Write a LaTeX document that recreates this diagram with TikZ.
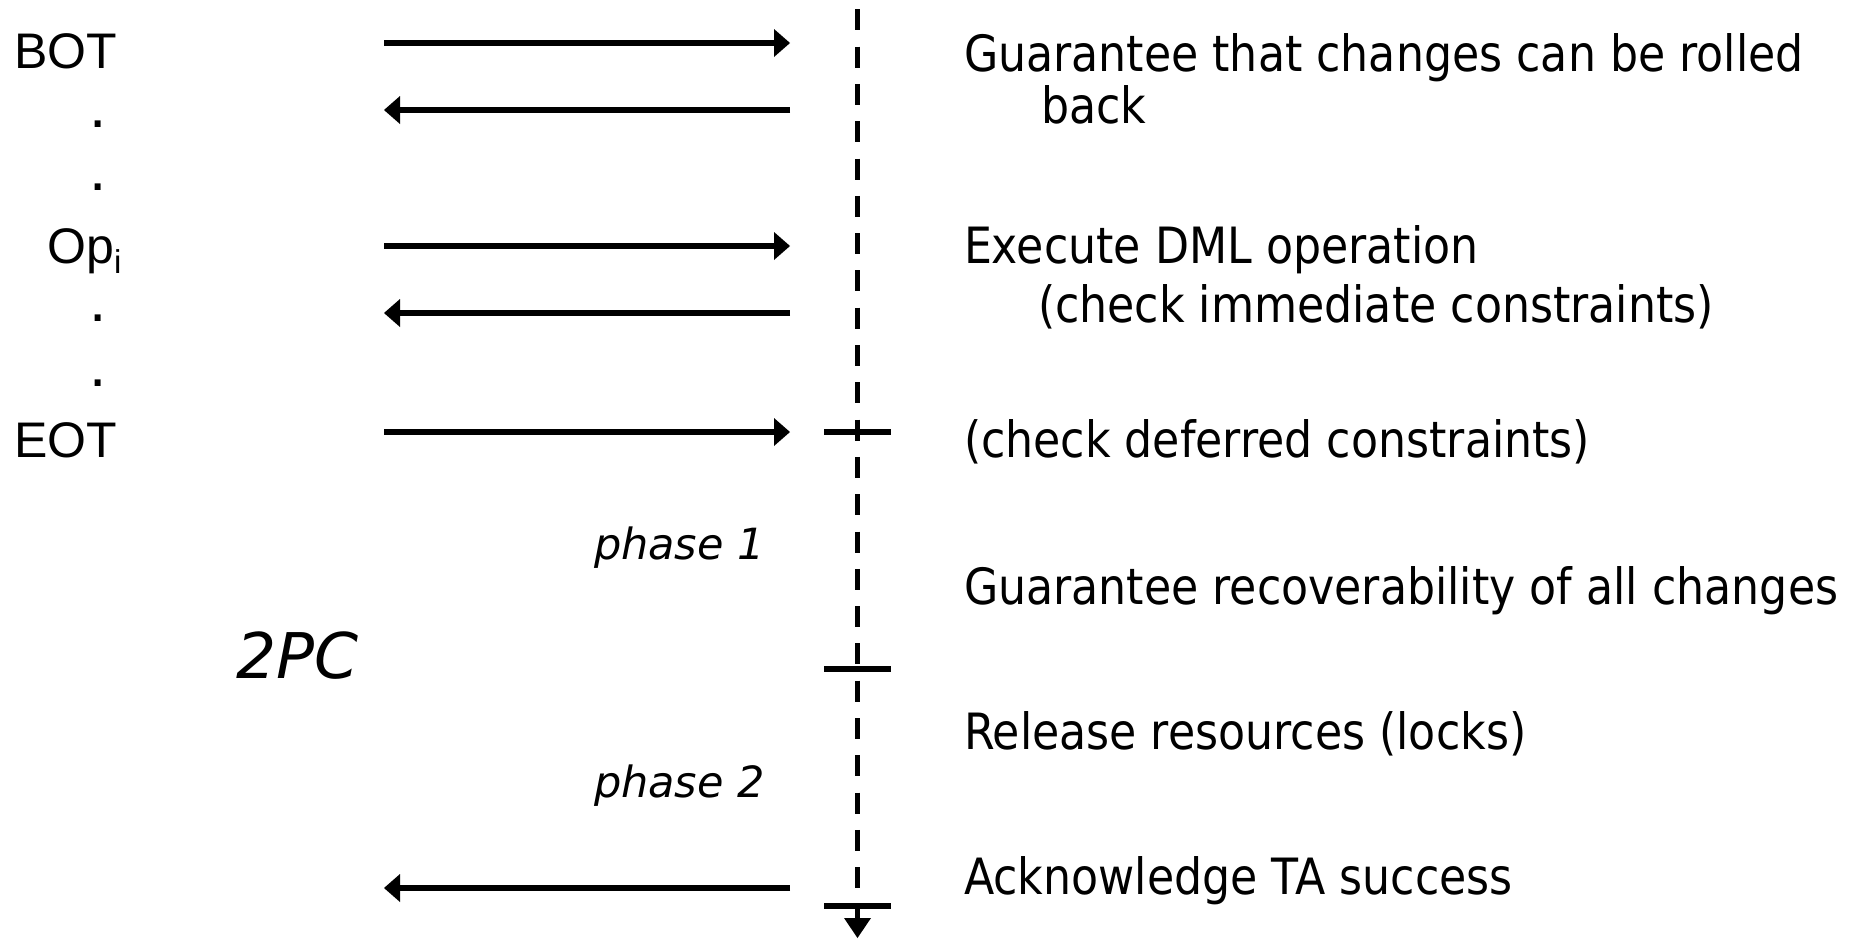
\documentclass[tikz,border=0pt]{standalone}
\usepackage{fontspec}
\usetikzlibrary{arrows.meta}
\newfontfamily\mainf[FakeStretch=0.885]{DejaVu Sans}
\newfontfamily\obf{DejaVu Sans}
\newfontfamily\leftf{Liberation Sans}
\begin{document}
\begin{tikzpicture}[x=1pt,y=-1pt,
  txt/.style={anchor=base west,inner sep=0pt,outer sep=0pt,font=\mainf\fontsize{50}{60}\selectfont},
  lbl/.style={anchor=base west,inner sep=0pt,outer sep=0pt,font=\leftf\fontsize{50}{60}\selectfont},
  dotlbl/.style={anchor=base west,inner sep=0pt,outer sep=0pt,font=\leftf\fontsize{62}{70}\selectfont},
  phs/.style={anchor=base west,inner sep=0pt,outer sep=0pt,font=\obf\itshape\fontsize{43}{50}\selectfont},
  big/.style={anchor=base west,inner sep=0pt,outer sep=0pt,font=\obf\itshape\fontsize{63}{75}\selectfont},
  msg/.style={line width=5.5pt,-{Triangle[length=16pt,width=28pt,line width=0pt]}},
  lifeline/.style={line width=5.3pt,dash pattern=on 21pt off 16.3pt,-{Triangle[length=20pt,width=27pt,line width=0pt]}},
  tickmark/.style={line width=5.3pt}
]
\useasboundingbox (0,0) rectangle (1861,938);

% left labels
\node[lbl] (bot) at (14,68) {BOT};
\node[dotlbl] (d1) at (89.5,127) {.};
\node[dotlbl] (d2) at (89.5,190) {.};
\node[lbl] (op) at (47.5,263) {Op\raisebox{-10pt}{\fontsize{33}{40}\selectfont i}};
\node[dotlbl] (d3) at (89.5,321) {.};
\node[dotlbl] (d4) at (89.5,386) {.};
\node[lbl] (eot) at (14,457) {EOT};

% phase labels
\node[phs] (ph1) at (594,559) {phase 1};
\node[phs] (ph2) at (594,797) {phase 2};
\node[big] (tpc) at (236,678) {2PC};

% arrow endpoints
\coordinate (l1) at (384,43);  \coordinate (r1) at (790,43);
\coordinate (l2) at (384,110); \coordinate (r2) at (790,110);
\coordinate (l3) at (384,246); \coordinate (r3) at (790,246);
\coordinate (l4) at (384,313); \coordinate (r4) at (790,313);
\coordinate (l5) at (384,432); \coordinate (r5) at (790,432);
\coordinate (l6) at (384,888); \coordinate (r6) at (790,888);

\draw[msg] (l1) -- (r1);
\draw[msg] (r2) -- (l2);
\draw[msg] (l3) -- (r3);
\draw[msg] (r4) -- (l4);
\draw[msg] (l5) -- (r5);
\draw[msg] (r6) -- (l6);

% lifeline
\coordinate (top) at (857.5,9.3);
\coordinate (end) at (857.5,938);
\draw[lifeline] (top) -- (end);

% ticks
\coordinate (t1a) at (824,432); \coordinate (t1b) at (891,432);
\coordinate (t2a) at (824,669); \coordinate (t2b) at (891,669);
\coordinate (t3a) at (824,906); \coordinate (t3b) at (891,906);
\draw[tickmark] (t1a) -- (t1b);
\draw[tickmark] (t2a) -- (t2b);
\draw[tickmark] (t3a) -- (t3b);

% right descriptions
\node[txt] (g1) at (964,71) {Guarantee that changes can be rolled};
\node[txt] (g1b) at (1041,123) {back};
\node[txt] (ex) at (964,263) {Execute DML operation};
\node[txt] (ci) at (1038,322) {(check immediate constraints)};
\node[txt] (cd) at (964,457) {(check deferred constraints)};
\node[txt] (gr) at (964,604) {Guarantee recoverability of all changes};
\node[txt] (rr) at (964,749) {Release resources (locks)};
\node[txt] (ack) at (964,894) {Acknowledge TA success};
\end{tikzpicture}
\end{document}
